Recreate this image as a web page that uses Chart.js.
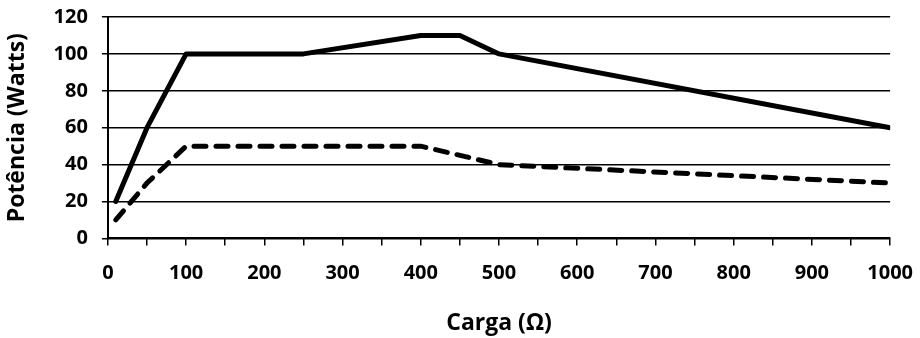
<!DOCTYPE html>
<html>
<head>
<meta charset="utf-8">
<script src="https://cdn.jsdelivr.net/npm/chart.js@4"></script>
<style>
  html, body { margin: 0; padding: 0; background: #fff; overflow: hidden; }
  #wrap { width: 929px; height: 350px; margin-top: -9px; }
</style>
</head>
<body>
<div id="wrap"><canvas id="grafico"></canvas></div>
<script>
// carga (ohm) e potencia (W)
var cargaTotal = [10, 50, 100, 250, 400, 450, 500, 1000];
var potenciaTotal = [20, 60, 100, 100, 110, 110, 100, 60];
var cargaUtil = [10, 50, 100, 250, 400, 500, 1000];
var potenciaUtil = [10, 30, 50, 50, 50, 40, 30];
var ticksX = [0, 100, 200, 300, 400, 500, 600, 700, 800, 900, 1000];
var ticksY = [0, 20, 40, 60, 80, 100, 120];

var pontos = (xs, ys) => xs.map((x, i) => ({ x: x, y: ys[i] }));
var fonte = "'Open Sans', 'DejaVu Sans', sans-serif";

var ctx = document.getElementById('grafico').getContext('2d');

new Chart(ctx, {
    type: 'scatter',
    data: {
        datasets: [{
            label: 'Potência total',
            data: pontos(cargaTotal, potenciaTotal),
            showLine: true,
            borderColor: '#000',
            borderWidth: 5,
            borderJoinStyle: 'round',
            borderCapStyle: 'round',
            pointRadius: 0
        }, {
            label: 'Potência útil',
            data: pontos(cargaUtil, potenciaUtil),
            showLine: true,
            borderColor: '#000',
            borderWidth: 5,
            borderDash: [12, 10],
            borderCapStyle: 'round',
            pointRadius: 0
        }]
    },
    options: {
        responsive: true,
        maintainAspectRatio: false,
        animation: false,
        layout: { padding: { top: 0, right: 0, bottom: 4, left: 4 } },
        plugins: {
            legend: { display: false },
            tooltip: { enabled: false }
        },
        scales: {
            x: {
                type: 'linear',
                min: 0,
                max: 1000,
                afterBuildTicks: axis => {
                    var t = [];
                    for (var v = 0; v <= 1000; v += 50) t.push({ value: v });
                    axis.ticks = t;
                },
                ticks: {
                    autoSkip: false,
                    maxRotation: 0,
                    color: '#000',
                    font: { family: fonte, size: 20, weight: 'bold' },
                    padding: 16,
                    callback: v => ticksX.includes(v) ? String(v) : ''
                },
                grid: {
                    drawOnChartArea: false,
                    drawTicks: true,
                    tickLength: 7,
                    color: '#000',
                    lineWidth: 1.5
                },
                border: { color: '#000', width: 2 },
                title: {
                    display: true,
                    text: 'Carga (Ω)',
                    color: '#000',
                    font: { family: fonte, size: 23, weight: 'bold' },
                    padding: { top: 8, bottom: 0 }
                }
            },
            y: {
                min: 0,
                max: 120,
                afterBuildTicks: axis => {
                    axis.ticks = ticksY.map(v => ({ value: v }));
                },
                ticks: {
                    color: '#000',
                    font: { family: fonte, size: 20, weight: 'bold' },
                    padding: 14
                },
                grid: {
                    color: '#000',
                    lineWidth: 1.5,
                    tickLength: 6
                },
                border: { color: '#000', width: 2 },
                title: {
                    display: true,
                    text: 'Potência (Watts)',
                    color: '#000',
                    font: { family: fonte, size: 23, weight: 'bold' },
                    padding: { top: 0, bottom: 8 }
                }
            }
        }
    }
});
</script>
</body>
</html>
